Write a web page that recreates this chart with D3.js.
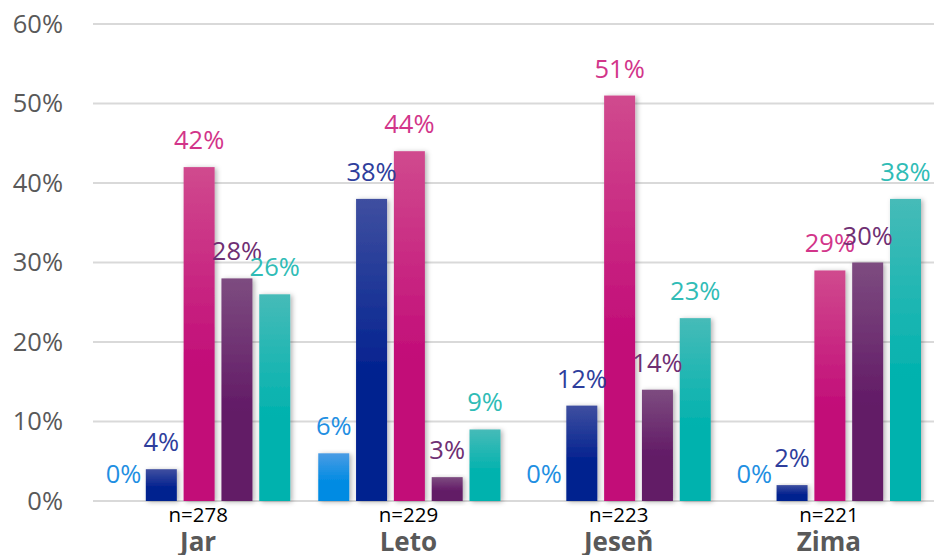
<!DOCTYPE html>
<html>
<head>
<meta charset="utf-8">
<script src="https://cdn.jsdelivr.net/npm/d3@7"></script>
<style>
  html, body { margin: 0; padding: 0; background: #fff; }
  svg { display: block; font-family: "Open Sans", "Noto Sans", sans-serif; }
</style>
</head>
<body>
<script>
var groups = ['Jar', 'Leto', 'Jeseň', 'Zima']
var counts = ['n=278', 'n=229', 'n=223', 'n=221']
var seriesNames = ['s1', 's2', 's3', 's4', 's5']
// percent values per series, in group order
var s1 = [0, 6, 0, 0]
var s2 = [4, 38, 12, 2]
var s3 = [42, 44, 51, 29]
var s4 = [28, 3, 14, 30]
var s5 = [26, 9, 23, 38]
var yTicks = [0, 10, 20, 30, 40, 50, 60]

var series = [s1, s2, s3, s4, s5]

var colors = [
  { top: '#4a9ce4', bottom: '#008be3', label: '#1f8fe2' },
  { top: '#3f4fa0', bottom: '#00208f', label: '#2e3e9c' },
  { top: '#d04a8e', bottom: '#c20c78', label: '#d2358a' },
  { top: '#7d4c80', bottom: '#621a66', label: '#6f2f73' },
  { top: '#46bbb8', bottom: '#00b2ae', label: '#30bcb6' }
]

var width = 934, height = 555
var svg = d3.select('body').append('svg')
  .attr('width', width)
  .attr('height', height)

var defs = svg.append('defs')
colors.forEach(function (c, i) {
  var g = defs.append('linearGradient')
    .attr('id', 'grad' + i)
    .attr('x1', 0).attr('y1', 0).attr('x2', 0).attr('y2', 1)
  g.append('stop').attr('offset', 0).attr('stop-color', c.top)
  g.append('stop').attr('offset', 0.6).attr('stop-color', c.bottom)
  g.append('stop').attr('offset', 1).attr('stop-color', c.bottom)
})
var shadow = defs.append('filter').attr('id', 'shadow')
  .attr('x', '-30%').attr('y', '-10%').attr('width', '160%').attr('height', '130%')
shadow.append('feDropShadow')
  .attr('dx', 2).attr('dy', 1)
  .attr('stdDeviation', 2.5)
  .attr('flood-color', '#000')
  .attr('flood-opacity', 0.3)

var y = d3.scaleLinear().domain([0, 60]).range([501, 24])
var x0 = d3.scaleBand().domain(groups).range([93, 934]).padding(0)
var x1 = d3.scaleBand().domain(seriesNames)
  .range([15, x0.bandwidth() - 13])
  .paddingInner(0.18).paddingOuter(0)

// gridlines + y labels
var grid = svg.append('g')
grid.selectAll('line').data(yTicks).enter().append('line')
  .attr('x1', 93).attr('x2', width)
  .attr('y1', function (d) { return y(d) })
  .attr('y2', function (d) { return y(d) })
  .attr('stroke', '#d9d9d9')
  .attr('stroke-width', 2)
grid.selectAll('text').data(yTicks).enter().append('text')
  .attr('x', 63)
  .attr('y', function (d) { return y(d) })
  .attr('dy', '0.35em')
  .attr('text-anchor', 'end')
  .attr('font-size', 25.5)
  .attr('fill', '#595959')
  .text(function (d) { return d + '%' })

var groupG = svg.selectAll('g.group').data(groups).enter().append('g')
  .attr('class', 'group')
  .attr('transform', function (d) { return 'translate(' + x0(d) + ',0)' })

groupG.each(function (g, gi) {
  var sel = d3.select(this)
  var vals = series.map(function (s, si) { return { key: seriesNames[si], i: si, v: s[gi] } })

  sel.selectAll('rect').data(vals).enter().append('rect')
    .attr('x', function (d) { return x1(d.key) })
    .attr('width', x1.bandwidth())
    .attr('y', function (d) { return y(d.v) })
    .attr('height', function (d) { return y(0) - y(d.v) })
    .attr('fill', function (d) { return 'url(#grad' + d.i + ')' })
    .attr('filter', function (d) { return d.v > 0 ? 'url(#shadow)' : null })

  sel.selectAll('text.val').data(vals).enter().append('text')
    .attr('class', 'val')
    .attr('x', function (d) { return x1(d.key) + x1.bandwidth() / 2 })
    .attr('y', function (d) { return y(d.v) - 18 })
    .attr('text-anchor', 'middle')
    .attr('font-size', 25.5)
    .attr('fill', function (d) { return colors[d.i].label })
    .text(function (d) { return d.v + '%' })

  sel.append('text')
    .attr('x', x0.bandwidth() / 2)
    .attr('y', 522)
    .attr('text-anchor', 'middle')
    .attr('font-size', 20.5)
    .attr('fill', '#000')
    .text(counts[gi])

  sel.append('text')
    .attr('x', x0.bandwidth() / 2)
    .attr('y', 551)
    .attr('text-anchor', 'middle')
    .attr('font-size', 26)
    .attr('font-weight', 'bold')
    .attr('fill', '#595959')
    .text(g)
})
</script>
</body>
</html>
